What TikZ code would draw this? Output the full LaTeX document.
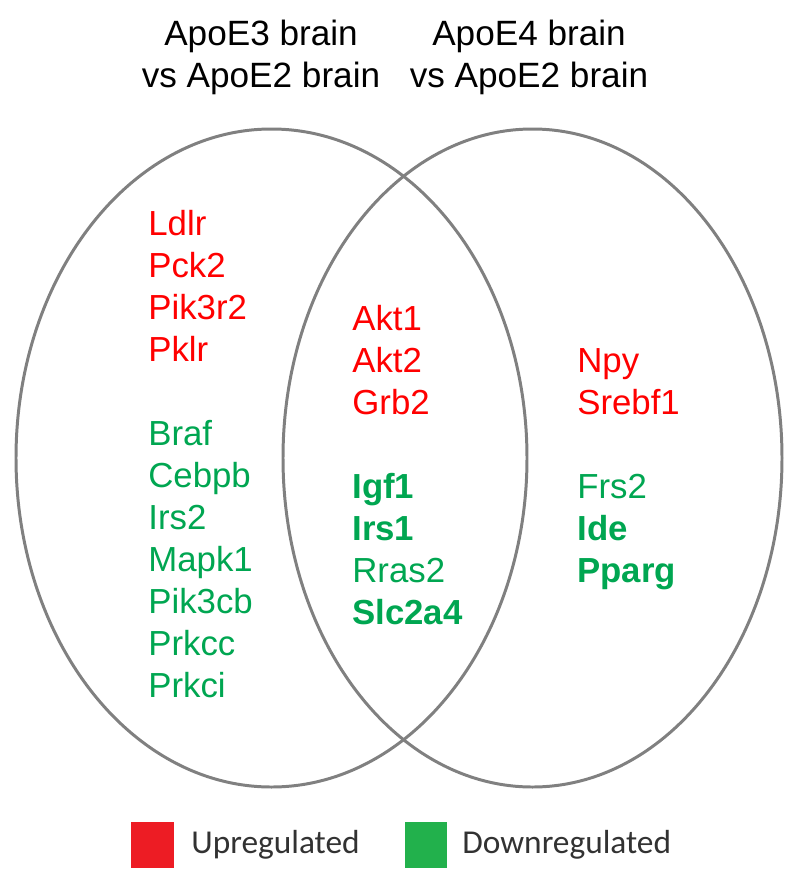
\documentclass[tikz,border=0pt]{standalone}
\usepackage{fontspec}
\setmainfont{Liberation Sans}
\newfontfamily\legfont{Carlito}
\definecolor{upred}{RGB}{255,0,0}
\definecolor{downgreen}{RGB}{0,166,81}
\definecolor{boxred}{RGB}{237,28,36}
\definecolor{boxgreen}{RGB}{34,177,76}
\definecolor{ringgray}{RGB}{128,128,128}
\definecolor{legtext}{RGB}{50,50,50}
\begin{document}
\begin{tikzpicture}[x=0.02cm,y=-0.02cm,
 ring/.style={draw=ringgray,line width=1.7pt},
 gene/.style={anchor=base west,inner sep=0pt,font=\fontsize{19.8}{23}\selectfont},
 up/.style={gene,text=upred},
 down/.style={gene,text=downgreen},
 ttl/.style={anchor=base,inner sep=0pt,font=\fontsize{20}{24}\selectfont},
 legbox/.style={minimum width=0.86cm,minimum height=0.92cm,inner sep=0pt},
 leg/.style={anchor=west,inner sep=0pt,text=legtext,font=\legfont\fontsize{19}{22}\selectfont}]
 \useasboundingbox (0,0) rectangle (800,883);
 % titles
 \node[ttl] (t3a) at (261,45) {ApoE3 brain};
 \node[ttl] (t3b) at (261,87) {vs ApoE2 brain};
 \node[ttl] (t4a) at (529,45) {ApoE4 brain};
 \node[ttl] (t4b) at (529,87) {vs ApoE2 brain};
 % the two sets
 \draw[ring] (271.5,458) ellipse [x radius=255.5,y radius=329];
 \draw[ring] (532.5,458) ellipse [x radius=249.5,y radius=329];
 % ApoE3 only
 \foreach \g [count=\i from 0] in {Ldlr,Pck2,Pik3r2,Pklr}
  \node[up] (l\i) at (148,235+42*\i) {\g};
 \foreach \g [count=\i from 5] in {Braf,Cebpb,Irs2,Mapk1,Pik3cb,Prkcc,Prkci}
  \node[down] (l\i) at (148,235+42*\i) {\g};
 % both
 \foreach \g [count=\i from 0] in {Akt1,Akt2,Grb2}
  \node[up] (m\i) at (352,330+42*\i) {\g};
 \node[down] (m4) at (352,498) {\bfseries Igf1};
 \node[down] (m5) at (352,540) {\bfseries Irs1};
 \node[down] (m6) at (352,582) {Rras2};
 \node[down] (m7) at (352,624) {\bfseries Slc2a4};
 % ApoE4 only
 \node[up] (r0) at (577,372) {Npy};
 \node[up] (r1) at (577,414) {Srebf1};
 \node[down] (r3) at (577,498) {Frs2};
 \node[down] (r4) at (577,540) {\bfseries Ide};
 \node[down] (r5) at (577,582) {\bfseries Pparg};
 % legend
 \node[legbox,fill=boxred] (upbox) at (152.5,845) {};
 \node[leg] (uptxt) at (191,845) {Upregulated};
 \node[legbox,fill=boxgreen] (downbox) at (426,845) {};
 \node[leg] (downtxt) at (462,845) {Downregulated};
\end{tikzpicture}
\end{document}
